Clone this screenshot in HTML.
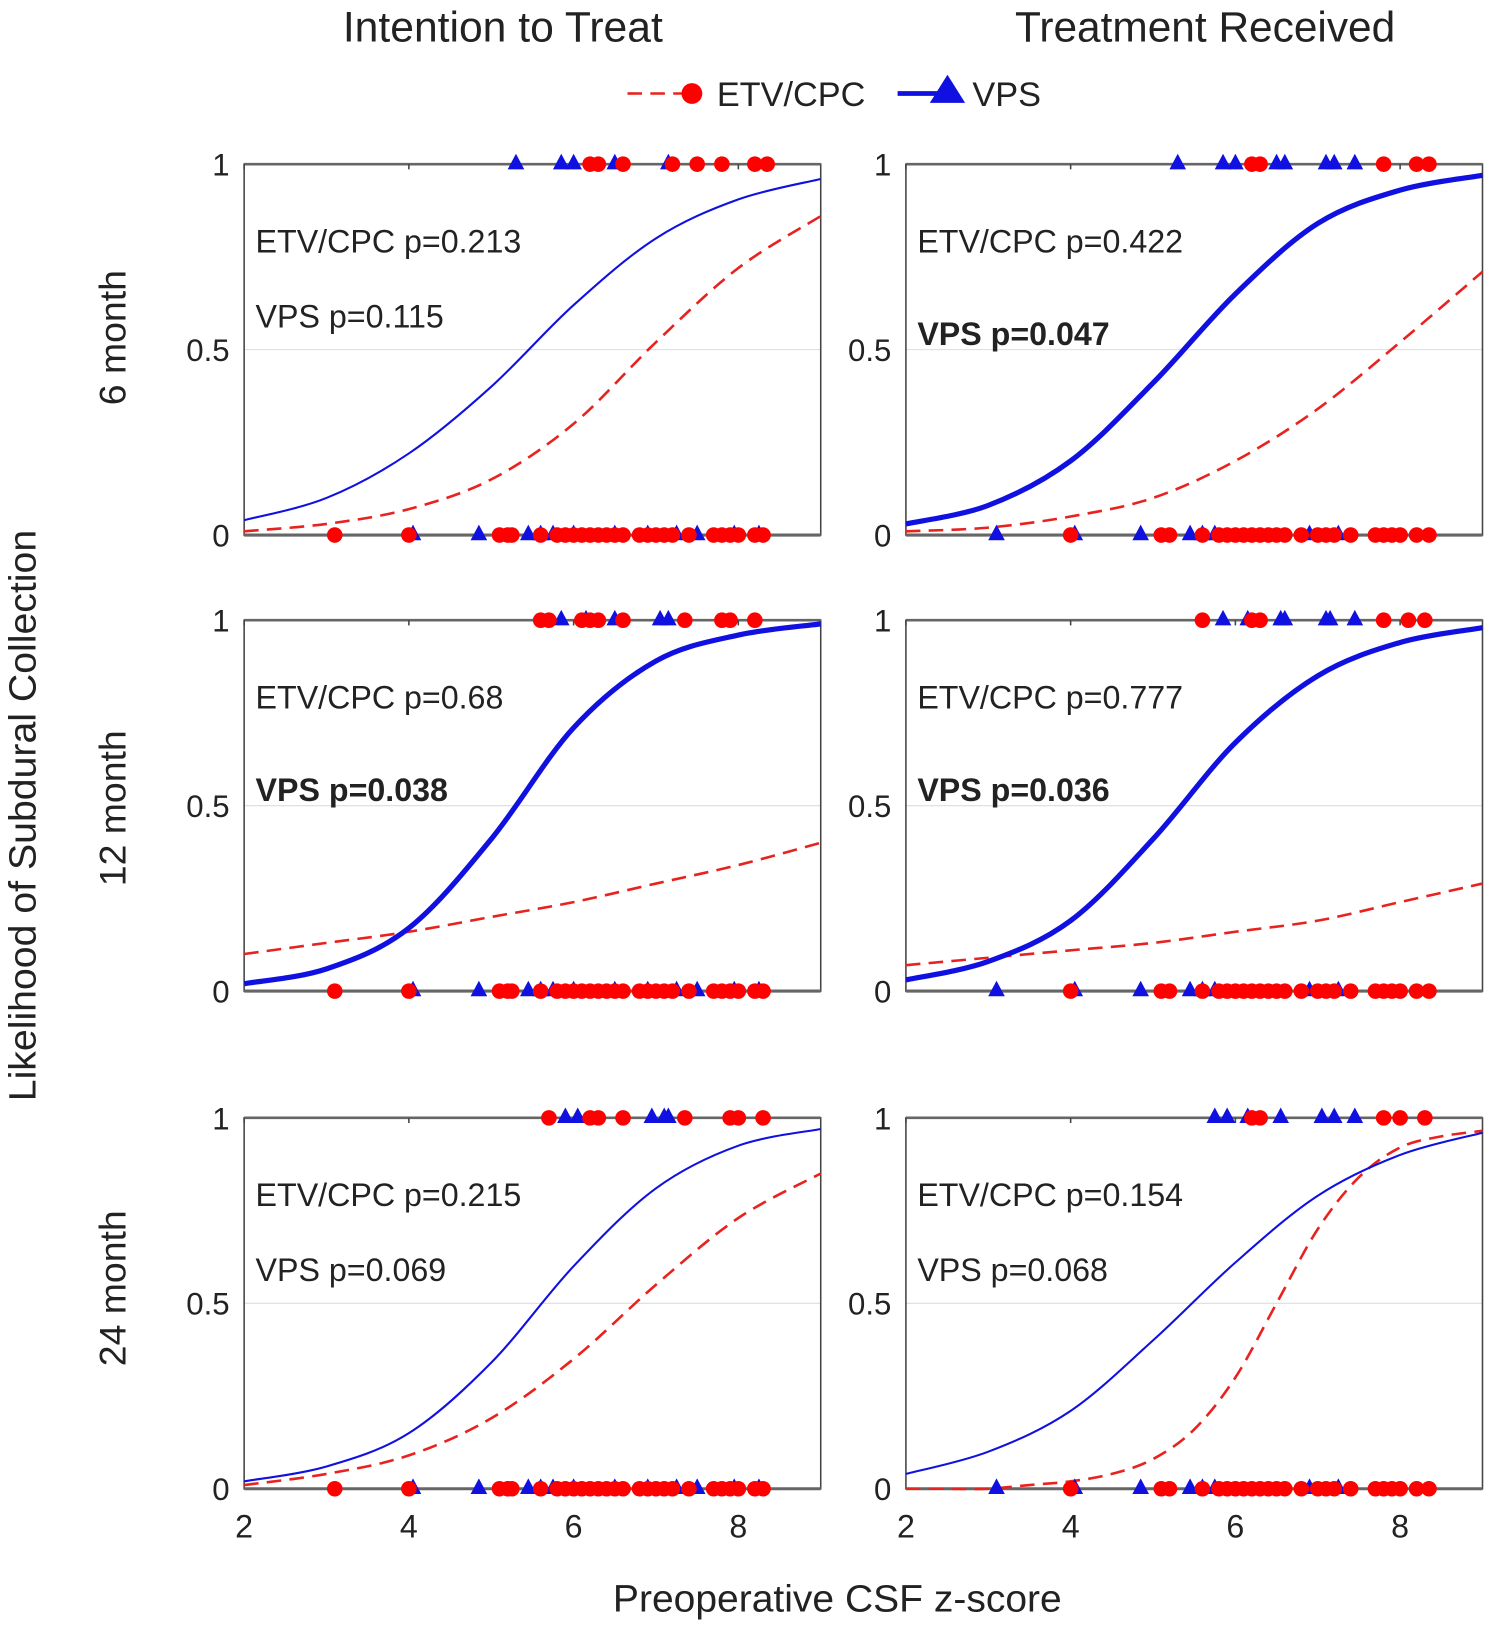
<!DOCTYPE html>
<html><head><meta charset="utf-8"><style>
html,body{margin:0;padding:0;background:#fff}
svg{display:block}
text{font-family:"Liberation Sans",sans-serif;fill:#222}
</style></head><body>
<svg id="fig" width="1496" height="1629" viewBox="0 0 1440 1568" preserveAspectRatio="none" xmlns="http://www.w3.org/2000/svg">
<text x="484" y="40" font-size="41" text-anchor="middle" textLength="308" lengthAdjust="spacingAndGlyphs">Intention to Treat</text>
<text x="1160" y="40" font-size="41" text-anchor="middle" textLength="366" lengthAdjust="spacingAndGlyphs">Treatment Received</text>
<g>
<g>
<line x1="604" y1="90" x2="666" y2="90" stroke="#e8221e" stroke-width="2.5" stroke-dasharray="14,8"/>
<circle cx="666" cy="90" r="10" fill="#f00"/>
<text x="690" y="102" font-size="33">ETV/CPC</text></g>
<g>
<line x1="864" y1="90" x2="912" y2="90" stroke="#1010e0" stroke-width="4.5"/>
<polygon points="912,72 895,99 929,99" fill="#1010e0"/>
<text x="936" y="102" font-size="33">VPS</text></g>
</g>
<text transform="translate(34,785) rotate(-90)" font-size="37" text-anchor="middle" textLength="550" lengthAdjust="spacingAndGlyphs">Likelihood of Subdural Collection</text>
<text x="806" y="1551" font-size="37" text-anchor="middle" textLength="432" lengthAdjust="spacingAndGlyphs">Preoperative CSF z-score</text>
<text transform="translate(121,325) rotate(-90)" font-size="36" text-anchor="middle">6 month</text>
<text transform="translate(121,778) rotate(-90)" font-size="36" text-anchor="middle">12 month</text>
<text transform="translate(121,1240) rotate(-90)" font-size="36" text-anchor="middle">24 month</text>
<g id="panels"></g>
</svg>
<script>
// curve sample x positions
const curveX = [2,3,4,5,6,7,8,9];
const curveX6red = [2,2.5,3,3.5,4,4.5,5,5.5,6,6.5,7,7.5,8,8.5,9];
// panel curve values
const p1Blue=[0.04,0.10,0.22,0.40,0.62,0.80,0.905,0.96];
const p1Red=[0.01,0.03,0.07,0.15,0.30,0.52,0.72,0.86];
const p2Blue=[0.03,0.08,0.20,0.41,0.65,0.84,0.93,0.97];
const p2Red=[0.01,0.02,0.05,0.10,0.20,0.34,0.52,0.71];
const p3Blue=[0.02,0.06,0.17,0.41,0.71,0.89,0.96,0.99];
const p3Red=[0.10,0.13,0.16,0.20,0.24,0.29,0.34,0.40];
const p4Blue=[0.03,0.08,0.19,0.41,0.67,0.85,0.94,0.98];
const p4Red=[0.07,0.09,0.11,0.13,0.16,0.19,0.24,0.29];
const p5Blue=[0.02,0.06,0.15,0.34,0.60,0.81,0.925,0.97];
const p5Red=[0.01,0.04,0.09,0.19,0.35,0.55,0.73,0.85];
const p6Blue=[0.04,0.10,0.21,0.40,0.61,0.79,0.90,0.96];
const p6Red=[0.0,0.0,0.0,0.01,0.02,0.04,0.08,0.16,0.30,0.50,0.70,0.84,0.92,0.95,0.965];
// marker positions (z-scores)
const ittBottomRed=[3.1,4.0,5.1,5.2,5.25,5.6,5.8,5.9,6.0,6.1,6.2,6.3,6.4,6.5,6.6,6.8,6.9,7.0,7.1,7.2,7.4,7.7,7.8,7.9,8.0,8.2,8.3];
const ittBottomBlue=[4.05,4.85,5.45,5.6,5.75,6.0,6.5,6.9,7.25,7.5,7.95,8.25];
const trBottomRed=[4.0,5.1,5.2,5.6,5.8,5.9,6.0,6.1,6.2,6.3,6.4,6.5,6.6,6.8,7.0,7.1,7.2,7.4,7.7,7.8,7.9,8.0,8.2,8.35];
const trBottomBlue=[3.1,4.05,4.85,5.45,5.6,5.75,6.9,7.25];
const p1TopRed=[6.2,6.3,6.6,7.2,7.5,7.8,8.2,8.35];
const p1TopBlue=[5.3,5.85,6.0,6.5,7.15];
const p2TopRed=[6.2,6.3,7.8,8.2,8.35];
const p2TopBlue=[5.3,5.85,6.0,6.5,6.6,7.1,7.2,7.45];
const p3TopRed=[5.6,5.7,6.1,6.2,6.3,6.6,7.35,7.8,7.9,8.2];
const p3TopBlue=[5.85,6.15,6.5,7.05,7.15];
const p4TopRed=[5.6,6.2,6.3,7.8,8.1,8.3];
const p4TopBlue=[5.85,6.15,6.55,6.6,7.1,7.15,7.45];
const p5TopRed=[5.7,6.2,6.3,6.6,7.35,7.9,8.0,8.3];
const p5TopBlue=[5.9,6.05,6.95,7.1,7.15];
const p6TopRed=[6.2,6.3,7.8,8.0,8.3];
const p6TopBlue=[5.75,5.9,6.15,6.55,7.05,7.2,7.45];
// annotations
const texts=[
 ["ETV/CPC p=0.213","VPS p=0.115",false],
 ["ETV/CPC p=0.422","VPS p=0.047",true],
 ["ETV/CPC p=0.68","VPS p=0.038",true],
 ["ETV/CPC p=0.777","VPS p=0.036",true],
 ["ETV/CPC p=0.215","VPS p=0.069",false],
 ["ETV/CPC p=0.154","VPS p=0.068",false]];
const xTicks=[2,4,6,8];
const yTicks=[0,0.5,1];
const yTickLabels=["0","0.5","1"];

const NS="http://www.w3.org/2000/svg";
const root=document.getElementById('panels');
function mk(tag,attrs,parent){const e=document.createElementNS(NS,tag);for(const k in attrs)e.setAttribute(k,attrs[k]);parent.appendChild(e);return e;}
const cols=[235,872], rows=[158,597,1076], W=555, H=357;
const panels=[
 {b:p1Blue,r:p1Red,rx:curveX,tr:p1TopRed,tb:p1TopBlue,br:ittBottomRed,bb:ittBottomBlue,thick:false},
 {b:p2Blue,r:p2Red,rx:curveX,tr:p2TopRed,tb:p2TopBlue,br:trBottomRed,bb:trBottomBlue,thick:true},
 {b:p3Blue,r:p3Red,rx:curveX,tr:p3TopRed,tb:p3TopBlue,br:ittBottomRed,bb:ittBottomBlue,thick:true},
 {b:p4Blue,r:p4Red,rx:curveX,tr:p4TopRed,tb:p4TopBlue,br:trBottomRed,bb:trBottomBlue,thick:true},
 {b:p5Blue,r:p5Red,rx:curveX,tr:p5TopRed,tb:p5TopBlue,br:ittBottomRed,bb:ittBottomBlue,thick:false},
 {b:p6Blue,r:p6Red,rx:curveX6red,tr:p6TopRed,tb:p6TopBlue,br:trBottomRed,bb:trBottomBlue,thick:false}];
function smooth(xs,ys,sx,sy){
 const pts=xs.map((x,i)=>[sx(x),sy(ys[i])]);
 let d=`M${pts[0][0]},${pts[0][1]}`;
 for(let i=0;i<pts.length-1;i++){
  const p0=pts[Math.max(0,i-1)],p1=pts[i],p2=pts[i+1],p3=pts[Math.min(pts.length-1,i+2)];
  d+=` C${p1[0]+(p2[0]-p0[0])/6},${p1[1]+(p2[1]-p0[1])/6} ${p2[0]-(p3[0]-p1[0])/6},${p2[1]-(p3[1]-p1[1])/6} ${p2[0]},${p2[1]}`;
 }
 return d;
}
panels.forEach((p,i)=>{
 const x0=cols[i%2], y0=rows[Math.floor(i/2)];
 const sx=v=>x0+(v-2)/7*W, sy=v=>y0+H-v*H;
 const g=mk('g',{},root);
 
 
 const grid=mk('line',{x1:x0,x2:x0+W,y1:sy(0.5),y2:sy(0.5),stroke:'#ddd','stroke-width':1},g);
 
 
 const box=mk('rect',{x:x0,y:y0,width:W,height:H,fill:'none',stroke:'#444','stroke-width':1.5},g);
 
 
 const base=mk('line',{x1:x0,x2:x0+W,y1:y0+H,y2:y0+H,stroke:'#666','stroke-width':3},g);
 
 
 const topl=mk('line',{x1:x0,x2:x0+W,y1:y0,y2:y0,stroke:'#666','stroke-width':2.5},g);
 
 
 yTicks.forEach((t,k)=>{
  const tl=mk('text',{x:x0-14,y:sy(t)+11,'font-size':30,'text-anchor':'end'},g);tl.textContent=yTickLabels[k];
  
  
 });
 xTicks.forEach(t=>{
  const tk=mk('line',{x1:sx(t),x2:sx(t),y1:y0,y2:y0+5,stroke:'#444','stroke-width':1.5},g);
  
  
  if(i>=4){const tl=mk('text',{x:sx(t),y:y0+H+47,'font-size':31,'text-anchor':'middle'},g);tl.textContent=t;
   
   }
 });
 const rc=mk('path',{d:smooth(p.rx,p.r,sx,sy),fill:'none',stroke:'#e8221e','stroke-width':2.5,'stroke-dasharray':'14,8'},g);
 
 
 const bc=mk('path',{d:smooth(curveX,p.b,sx,sy),fill:'none',stroke:'#1010e0','stroke-width':p.thick?5:2},g);
 
 
 const tri=(v,yy)=>{const cx=sx(v),cy=sy(yy);const t=mk('polygon',{points:`${cx},${cy-10} ${cx-8},${cy+5} ${cx+8},${cy+5}`,fill:'#1010e0'},g);
  
  };
 const dot=(v,yy)=>{const c=mk('circle',{cx:sx(v),cy:sy(yy),r:7.5,fill:'#f00'},g);
  
  };
 p.bb.forEach(v=>tri(v,0)); p.br.forEach(v=>dot(v,0));
 p.tb.forEach(v=>tri(v,1)); p.tr.forEach(v=>dot(v,1));
 const [t1,t2,bold]=texts[i];
 const a=mk('text',{x:x0+11,y:y0+85,'font-size':31},g);a.textContent=t1;
 
 
 const b=mk('text',{x:x0+11,y:y0+(bold?174:157),'font-size':31,'font-weight':bold?'bold':'normal'},g);b.textContent=t2;
 
 
});
</script>
</body></html>
